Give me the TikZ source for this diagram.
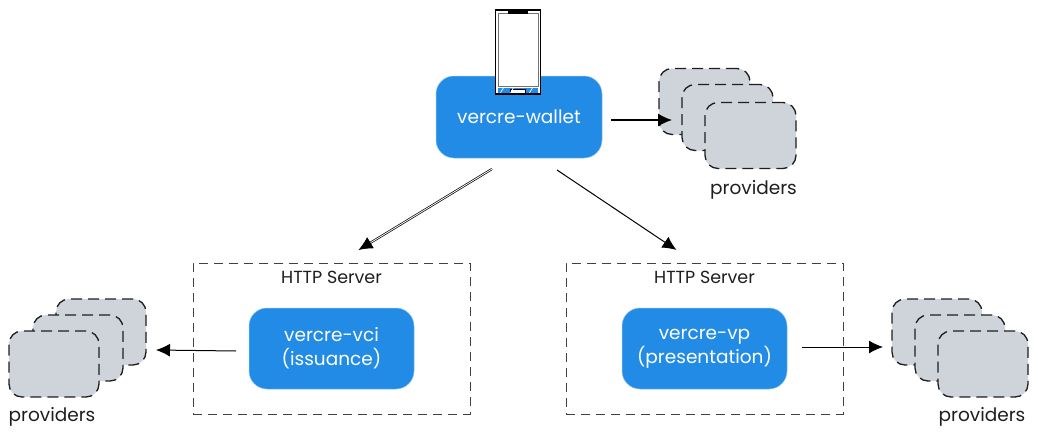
\documentclass[tikz,border=0pt]{standalone}
\usepackage{fontspec}
\setmainfont{Poppins}
\usepackage{tikz}
\usetikzlibrary{arrows.meta,positioning}
\definecolor{svcblue}{HTML}{228BE6}
\definecolor{svcedge}{HTML}{8CC4F2}
\definecolor{provgray}{HTML}{CED4DA}
\definecolor{inkline}{HTML}{1E1E1E}

\begin{document}
\begin{tikzpicture}[
  x=1pt, y=1pt,
  svc/.style={draw=svcedge, line width=0.5pt, fill=svcblue, rounded corners=18pt, align=center, outer sep=0pt, inner sep=0pt, minimum height=81pt, minimum width=165pt, text=white, font=\fontsize{18.5}{24}\selectfont},
  srv/.style={draw=inkline!85, line width=1pt, dash pattern=on 9pt off 6pt, outer sep=0pt, inner sep=0pt, minimum height=151pt, minimum width=277pt},
  prov/.style={draw=inkline, line width=1.3pt, dash pattern=on 11pt off 6pt, fill=provgray, rounded corners=13pt, outer sep=0pt, inner sep=0pt, minimum height=66pt, minimum width=90pt},
  lbl/.style={text=inkline, inner sep=0pt, font=\fontsize{18.5}{22}\selectfont},
  srvlbl/.style={text=inkline, inner sep=0pt, font=\fontsize{17.5}{20}\selectfont},
  arr/.style={-{Latex[length=14pt,width=13pt]}, draw=black, line width=1pt}
]
\useasboundingbox (0,0) rectangle (1038,-439);

% services
\node[svc, minimum height=82pt, minimum width=166pt] (wallet) at (519,-117) {vercre-wallet};
\node[svc, below left=150pt and 22pt of wallet] (vci) {vercre-vci\\(issuance)};
\node[svc, below right=150pt and 20pt of wallet] (vp) {vercre-vp\\(presentation)};

% server frames
\node[srv, above=-106pt of vci] (srvvci) {};
\node[srv, above=-106pt of vp] (srvvp) {};
\node[srvlbl, below=8pt of srvvci.north] (srvvcilbl) {HTTP Server};
\node[srvlbl, below=8pt of srvvp.north] (srvvplbl) {HTTP Server};

% provider stacks
\node[prov, minimum width=91pt, right=57pt of wallet, yshift=15.5pt] (wprov1) {};
\node[prov, minimum width=91pt, below right=-50pt and -68pt of wprov1] (wprov2) {};
\node[prov, minimum width=91pt, below right=-48pt and -68pt of wprov2] (wprov3) {};
\node[lbl, below=12pt of wprov3, xshift=3pt] (wprovlbl) {providers};

\node[prov, left=103pt of vci, yshift=16.5pt] (iprov1) {};
\node[prov, below left=-50pt and -67pt of iprov1] (iprov2) {};
\node[prov, below left=-50pt and -66pt of iprov2] (iprov3) {};
\node[lbl, below=10pt of iprov3, xshift=-2pt] (iprovlbl) {providers};

\node[prov, right=105pt of vp, yshift=16.5pt] (pprov1) {};
\node[prov, below right=-50pt and -67pt of pprov1] (pprov2) {};
\node[prov, below right=-50pt and -67pt of pprov2] (pprov3) {};
\node[lbl, below=10pt of pprov3, xshift=-1pt] (pprovlbl) {providers};

% phone on the wallet
\node[draw=black, line width=1.6pt, fill=white, outer sep=0pt, inner sep=0pt, minimum width=45pt, minimum height=84pt] (phone) at (518,-52) {};
\node[draw=black!55, line width=0.8pt, fill=white, outer sep=0pt, inner sep=0pt, minimum width=40pt, minimum height=73pt, below=3.5pt of phone.north] (screen) {};
\node[fill=svcblue, outer sep=0pt, inner sep=0pt, minimum width=40pt, minimum height=5pt, above=1.2pt of phone.south] (strip) {};
\node[draw=black, line width=0.6pt, fill=white, outer sep=0pt, inner sep=0pt, minimum width=15pt, minimum height=3.5pt, above=0.8pt of phone.south] (homebtn) {};
\node[fill=black, outer sep=0pt, inner sep=0pt, minimum width=20pt, minimum height=3pt, below=0.5pt of phone.north] (notch) {};
\foreach \xpos in {-16,-6,13} {
  \draw[white, line width=0.7pt] ([xshift=\xpos*1pt-1.5pt]strip.south) -- ([xshift=\xpos*1pt+1.5pt]strip.north);
}

% connectors
\draw[arr, double=white, double distance=0.8pt, line width=0.7pt] ([xshift=-27pt,yshift=-11pt]wallet.south) -- ([xshift=27pt,yshift=13pt]srvvci.north);
\draw[arr] ([xshift=38pt,yshift=-12pt]wallet.south) -- ([xshift=-28pt,yshift=13pt]srvvp.north);
\draw[arr, line width=1.4pt] ([xshift=9pt,yshift=-3pt]wallet.east) -- ([xshift=13pt,yshift=-18.5pt]wprov1.west);
\draw[arr] ([xshift=-13pt,yshift=-2.5pt]vci.west) -- ([xshift=10pt,yshift=-18pt]iprov1.east);
\draw[arr] ([xshift=15pt,yshift=1.5pt]vp.east) -- ([xshift=-9pt,yshift=-15pt]pprov1.west);
\end{tikzpicture}
\end{document}
